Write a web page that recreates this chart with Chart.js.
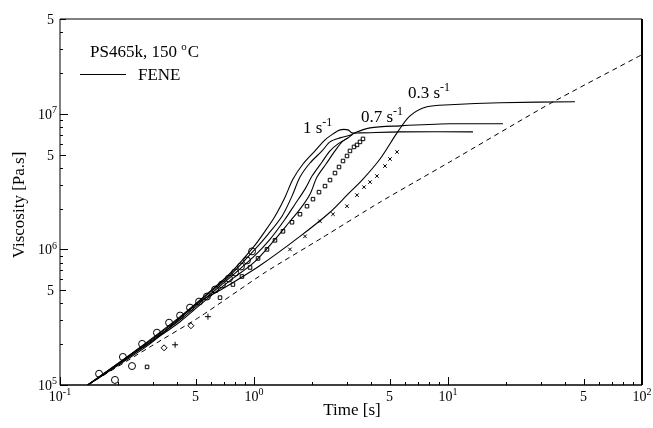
<!DOCTYPE html>
<html>
<head>
<meta charset="utf-8">
<script src="https://cdn.jsdelivr.net/npm/chart.js@4"></script>
<style>
  html, body { margin: 0; padding: 0; background: #fff; }
  #wrap { width: 653px; height: 428px; }
</style>
</head>
<body>
<div id="wrap"><canvas id="c" width="653" height="428"></canvas></div>
<script>
// --- data (time in s, viscosity in Pa.s) ---
var lveTime = [0.139, 0.291, 0.527, 1.14, 2.27, 4.46, 10.2, 33.6, 100];
var lveVisc = [1.0e5, 1.91e5, 3.19e5, 6.76e5, 1.23e6, 2.23e6, 4.41e6, 1.19e7, 2.73e7];

var fene1aTime = [0.139, 0.204, 0.291, 0.416, 0.559, 0.752, 1.0, 1.139, 1.283, 1.445, 1.589, 1.789, 2.063, 2.323, 2.554, 2.776, 3.051, 3.200, 3.518, 5.656, 13.45];
var fene1aVisc = [1.0e5, 1.48e5, 2.15e5, 3.19e5, 4.56e5, 6.64e5, 1.052e6, 1.359e6, 1.756e6, 2.428e6, 3.30e6, 4.262e6, 5.321e6, 6.418e6, 7.112e6, 7.612e6, 7.612e6, 7.235e6, 7.235e6, 7.356e6, 7.356e6];

var fene1bTime = [0.139, 0.204, 0.291, 0.416, 0.559, 0.752, 1.0, 1.181, 1.394, 1.570, 1.726, 1.944, 2.242, 2.465, 2.776, 3.200];
var fene1bVisc = [1.0e5, 1.48e5, 2.12e5, 3.14e5, 4.49e5, 6.42e5, 9.83e5, 1.292e6, 1.756e6, 2.470e6, 3.415e6, 4.335e6, 5.321e6, 6.203e6, 6.642e6, 6.992e6];

var fene07aTime = [0.139, 0.204, 0.291, 0.416, 0.559, 0.752, 1.0, 1.209, 1.445, 1.627, 1.832, 1.991, 2.242, 2.465, 2.710, 3.051, 3.316, 3.962, 5.656, 10.24, 19.21];
var fene07aVisc = [1.0e5, 1.455e5, 2.08e5, 3.03e5, 4.335e5, 6.20e5, 8.875e5, 1.186e6, 1.668e6, 2.154e6, 2.783e6, 3.473e6, 4.410e6, 5.321e6, 5.995e6, 6.642e6, 7.235e6, 7.876e6, 8.150e6, 8.433e6, 8.433e6];

var fene07bTime = [0.139, 0.204, 0.291, 0.416, 0.559, 0.752, 1.0, 1.283, 1.533, 1.726, 1.944, 2.112, 2.350, 2.615, 2.842, 3.051];
var fene07bVisc = [1.0e5, 1.455e5, 2.05e5, 2.93e5, 4.19e5, 5.89e5, 8.01e5, 1.186e6, 1.612e6, 1.979e6, 2.555e6, 3.415e6, 4.262e6, 5.321e6, 6.203e6, 6.642e6];

var fene03Time = [0.139, 0.204, 0.291, 0.527, 0.692, 1.074, 1.726, 2.465, 3.016, 3.646, 4.462, 5.461, 6.370, 7.795, 10.24, 18.53, 45.14];
var fene03Visc = [1.0e5, 1.43e5, 2.01e5, 4.12e5, 5.14e5, 7.61e5, 1.248e6, 1.880e6, 2.512e6, 3.300e6, 4.642e6, 7.235e6, 9.665e6, 1.127e7, 1.166e7, 1.206e7, 1.227e7];

// measured points
var circleTime = [0.159, 0.211, 0.265, 0.316, 0.365, 0.416, 0.468, 0.521, 0.572, 0.630, 0.684, 0.743, 0.799, 0.857, 0.920, 0.977];
var circleVisc = [1.21e5, 1.61e5, 2.01e5, 2.43e5, 2.88e5, 3.25e5, 3.72e5, 4.12e5, 4.49e5, 5.06e5, 5.51e5, 6.10e5, 6.76e5, 7.48e5, 8.29e5, 9.67e5];
var circle2Time = [0.192, 0.235];
var circle2Visc = [1.09e5, 1.38e5];

var squareTime = [0.281, 0.668, 0.779, 0.867, 0.954, 1.049, 1.167, 1.283, 1.411, 1.570, 1.726, 1.876, 2.014, 2.163, 2.323, 2.465, 2.615, 2.743, 2.876, 3.016, 3.124, 3.277, 3.396, 3.518, 3.646];
var squareVisc = [1.359e5, 4.41e5, 5.506e5, 6.31e5, 7.356e5, 8.577e5, 1.0e6, 1.166e6, 1.359e6, 1.585e6, 1.817e6, 2.082e6, 2.347e6, 2.643e6, 2.929e6, 3.245e6, 3.656e6, 4.05e6, 4.486e6, 4.886e6, 5.321e6, 5.696e6, 5.894e6, 6.203e6, 6.529e6];

var diamondTime = [0.344, 0.473];
var diamondVisc = [1.88e5, 2.735e5];

var plusTime = [0.392, 0.579];
var plusVisc = [1.98e5, 3.19e5];

var crossTime = [1.533, 1.832, 2.189, 2.554, 3.016, 3.396, 3.69, 3.962, 4.305, 4.734, 5.023, 5.461];
var crossVisc = [1.0e6, 1.248e6, 1.612e6, 1.817e6, 2.082e6, 2.512e6, 2.879e6, 3.136e6, 3.473e6, 4.119e6, 4.642e6, 5.231e6];

// axis ticks
var xTickValues = [0.1, 0.5, 1, 5, 10, 50, 100];
var xTickText = ['10^-1', '5', '10^0', '5', '10^1', '5', '10^2'];
var yTickValues = [1e5, 5e5, 1e6, 5e6, 1e7, 5e7];
var yTickText = ['10^5', '5', '10^6', '5', '10^7', '5'];

var rateLabels = ['1 s^-1', '0.7 s^-1', '0.3 s^-1'];

function pts(ts, vs) {
    return ts.map(function(t, i) { return { x: t, y: vs[i] }; });
}

function lineSet(ts, vs, dashed) {
    return {
        data: pts(ts, vs),
        showLine: true,
        borderColor: '#000',
        borderWidth: dashed ? 1 : 1.1,
        borderDash: dashed ? [5, 4] : [],
        pointRadius: 0,
        fill: false,
        tension: dashed ? 0.2 : 0.3
    };
}

function markSet(ts, vs, style, r) {
    return {
        data: pts(ts, vs),
        showLine: false,
        pointStyle: style,
        pointRadius: r,
        borderColor: '#000',
        borderWidth: 1,
        backgroundColor: 'rgba(0,0,0,0)'
    };
}

var serif = '"Liberation Serif", "DejaVu Serif", serif';

// draws "base^sup" text; align is 'left', 'center' or 'right'
function drawSup(ctx, text, x, y, size, align) {
    var parts = text.split('^');
    var supSize = Math.round(size * 0.68);
    ctx.font = size + 'px ' + serif;
    var wb = ctx.measureText(parts[0]).width;
    var ws = 0;
    if (parts[1]) {
        ctx.font = supSize + 'px ' + serif;
        ws = ctx.measureText(parts[1]).width;
    }
    var left = x;
    if (align === 'center') left = x - (wb + ws) / 2;
    if (align === 'right') left = x - wb - ws;
    ctx.textAlign = 'left';
    ctx.font = size + 'px ' + serif;
    ctx.fillText(parts[0], left, y);
    if (parts[1]) {
        ctx.font = supSize + 'px ' + serif;
        ctx.fillText(parts[1], left + wb, y - size * 0.42);
    }
}

var decorPlugin = {
    id: 'decor',
    afterDraw: function(chart) {
        var ctx = chart.ctx;
        var xs = chart.scales.x, ys = chart.scales.y;
        var a = chart.chartArea;
        ctx.save();
        ctx.fillStyle = '#000';
        ctx.strokeStyle = '#000';

        // frame
        ctx.lineWidth = 1;
        ctx.beginPath();
        ctx.moveTo(a.left, a.bottom); ctx.lineTo(a.left, a.top); ctx.lineTo(a.right, a.top);
        ctx.stroke();
        ctx.lineWidth = 2;
        ctx.beginPath();
        ctx.moveTo(a.right, a.top); ctx.lineTo(a.right, a.bottom);
        ctx.stroke();
        ctx.lineWidth = 1.5;
        ctx.beginPath();
        ctx.moveTo(a.left, a.bottom); ctx.lineTo(a.right, a.bottom);
        ctx.stroke();

        // inward ticks
        ctx.lineWidth = 1;
        [0.1, 1, 10].forEach(function(d) {
            for (var m = 1; m <= 9; m++) {
                var px = Math.round(xs.getPixelForValue(m * d)) + 0.5;
                var len = m === 1 ? 8 : (m === 5 ? 6 : 3);
                ctx.beginPath(); ctx.moveTo(px, a.bottom); ctx.lineTo(px, a.bottom - len); ctx.stroke();
            }
        });
        [1e5, 1e6, 1e7].forEach(function(d) {
            for (var m = 1; m <= 9; m++) {
                if (m * d > 5e7) break;
                var py = Math.round(ys.getPixelForValue(m * d)) + 0.5;
                var len = m === 1 ? 8 : (m === 5 ? 6 : 3);
                ctx.beginPath(); ctx.moveTo(a.left, py); ctx.lineTo(a.left + len, py); ctx.stroke();
            }
        });

        // tick labels
        xTickValues.forEach(function(v, i) {
            drawSup(ctx, xTickText[i], xs.getPixelForValue(v), 401, 14, 'center');
        });
        yTickValues.forEach(function(v, i) {
            var py = ys.getPixelForValue(v);
            drawSup(ctx, yTickText[i], yTickText[i] === '5' ? 54 : 57, py + 5, 14, 'right');
        });

        // axis titles
        ctx.font = '17px ' + serif;
        ctx.textAlign = 'center';
        ctx.fillText('Time [s]', 352, 415);
        ctx.save();
        ctx.translate(24, 205);
        ctx.rotate(-Math.PI / 2);
        ctx.fillText('Viscosity [Pa.s]', 0, 0);
        ctx.restore();

        // legend
        ctx.textAlign = 'left';
        ctx.font = '17px ' + serif;
        var t1 = 'PS465k, 150 ';
        ctx.fillText(t1, 90, 57);
        var w1 = ctx.measureText(t1).width;
        ctx.font = '11px ' + serif;
        ctx.fillText('o', 90 + w1, 50);
        var w2 = ctx.measureText('o').width;
        ctx.font = '17px ' + serif;
        ctx.fillText('C', 90 + w1 + w2 + 1, 57);
        ctx.lineWidth = 1;
        ctx.beginPath(); ctx.moveTo(80, 74.5); ctx.lineTo(126, 74.5); ctx.stroke();
        ctx.fillText('FENE', 138, 80);

        // rate labels
        drawSup(ctx, rateLabels[0], 303, 133, 17, 'left');
        drawSup(ctx, rateLabels[1], 361, 122, 17, 'left');
        drawSup(ctx, rateLabels[2], 408, 98, 17, 'left');

        ctx.restore();
    }
};

var ctx = document.getElementById('c').getContext('2d');
new Chart(ctx, {
    type: 'scatter',
    data: {
        datasets: [
            lineSet(lveTime, lveVisc, true),
            lineSet(fene1aTime, fene1aVisc),
            lineSet(fene1bTime, fene1bVisc),
            lineSet(fene07aTime, fene07aVisc),
            lineSet(fene07bTime, fene07bVisc),
            lineSet(fene03Time, fene03Visc),
            markSet(circleTime, circleVisc, 'circle', 3.5),
            markSet(circle2Time, circle2Visc, 'circle', 3.5),
            markSet(squareTime, squareVisc, 'rect', 2.5),
            markSet(diamondTime, diamondVisc, 'rectRot', 3),
            markSet(plusTime, plusVisc, 'cross', 3),
            markSet(crossTime, crossVisc, 'crossRot', 2.5)
        ]
    },
    options: {
        responsive: false,
        animation: false,
        layout: { padding: { left: 60, right: 11, top: 19, bottom: 43 } },
        plugins: { legend: { display: false }, tooltip: { enabled: false } },
        scales: {
            x: { type: 'logarithmic', min: 0.1, max: 100, display: false },
            y: { type: 'logarithmic', min: 1e5, max: 5e7, display: false }
        }
    },
    plugins: [decorPlugin]
});
</script>
</body>
</html>
